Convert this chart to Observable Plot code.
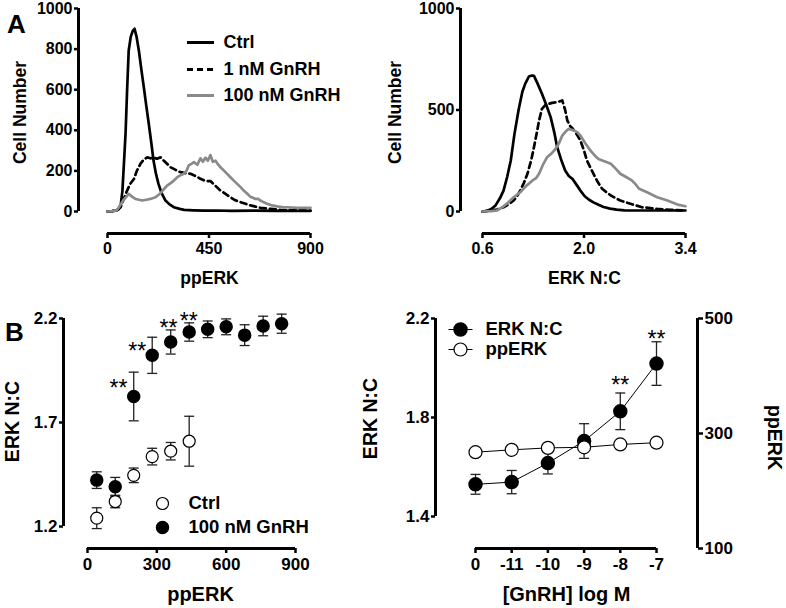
<!DOCTYPE html>
<html><head><meta charset="utf-8">
<script src="https://cdn.jsdelivr.net/npm/d3@7"></script>
<script src="https://cdn.jsdelivr.net/npm/@observablehq/plot@0.6"></script>
<style>
html,body{margin:0;padding:0;background:#fff;}
#wrap{position:relative;width:786px;height:608px;overflow:hidden;background:#fff;}
#wrap svg{position:absolute;left:0;top:0;}
</style></head><body><div id="wrap"></div>
<script>
// ---------- DATA ----------
// Panel A left: ppERK histograms (x = ppERK, y = cell number)
const ctrlPP_x = [0,20,40,50,58,66,73,80,87,94,103,112,120,129,139,150,161,172,183,194,204,215,226,240,257,275,294,320,340,380,430,480,550,650,750,850,900];
const ctrlPP_y = [0,2,5,12,25,100,240,383,600,793,860,890,900,860,793,700,612,520,432,340,251,185,136,90,54,35,21,13,8,6,4,5,3,4,3,3,3];
const nM1PP_x = [0,20,40,50,58,70,87,100,117,130,146,160,176,190,205,220,235,250,264,279,294,310,323,340,368,390,412,435,456,480,501,523,545,567,590,612,634,656,678,723,767,820,900];
const nM1PP_y = [0,2,5,13,21,55,103,135,160,200,235,255,267,262,265,260,267,250,235,218,210,200,194,190,186,175,161,150,150,125,103,87,70,55,46,38,30,24,18,13,8,6,5];
const nM100PP_x = [0,20,40,50,70,94,110,124,139,154,172,190,213,235,250,264,280,294,309,323,338,350,360,372,383,398,412,423,434,445,456,467,479,490,501,523,545,560,575,590,604,620,634,645,656,668,678,693,708,730,752,775,797,841,900];
const nM100PP_y = [0,2,5,20,55,87,72,62,58,54,58,62,70,90,110,128,140,152,169,178,186,200,227,235,243,230,262,245,265,250,278,245,250,232,218,194,169,152,136,120,103,87,72,68,62,62,54,45,38,30,25,22,21,18,18];

// Panel A right: ERK N:C histograms
const ctrlNC_x = [0.6,0.66,0.72,0.78,0.84,0.89,0.94,0.99,1.04,1.10,1.15,1.19,1.24,1.28,1.31,1.36,1.42,1.48,1.54,1.59,1.63,1.68,1.74,1.79,1.84,1.90,1.95,2.01,2.07,2.13,2.2,2.27,2.36,2.45,2.56,2.68,2.85,3.05,3.2,3.4];
const ctrlNC_y = [0,3,12,30,65,103,170,251,380,505,590,630,665,670,668,630,580,525,465,390,317,260,202,175,161,130,103,75,58,45,33,22,14,9,6,5,5,5,5,5];
const nM1NC_x = [0.6,0.71,0.8,0.89,0.96,1.03,1.08,1.12,1.17,1.22,1.27,1.31,1.35,1.38,1.42,1.46,1.51,1.56,1.61,1.66,1.70,1.74,1.77,1.81,1.84,1.90,1.95,2.0,2.04,2.09,2.13,2.19,2.25,2.31,2.37,2.44,2.50,2.64,2.80,3.01,3.19,3.4];
const nM1NC_y = [0,5,10,21,35,54,78,103,140,186,250,317,390,448,506,522,530,535,538,542,547,500,448,420,410,380,350,300,251,215,186,145,112,95,79,65,54,38,21,13,8,5];
const nM100NC_x = [0.6,0.72,0.80,0.87,0.94,1.03,1.12,1.20,1.29,1.34,1.38,1.44,1.49,1.55,1.61,1.66,1.70,1.75,1.79,1.85,1.91,1.95,2.02,2.09,2.15,2.20,2.28,2.37,2.44,2.50,2.58,2.66,2.71,2.76,2.87,3.01,3.15,3.29,3.4];
const nM100NC_y = [0,2,5,20,40,70,95,125,153,165,186,235,267,285,309,340,374,395,407,400,391,374,335,300,275,259,248,235,210,186,170,153,135,112,95,70,54,34,26];

// Panel B left: ERK N:C vs ppERK (mean ± error)
const ctrlB_x = [40,120,200,280,360,440];
const ctrlB_y = [1.24,1.32,1.446,1.536,1.562,1.61];
const ctrlB_e = [0.05,0.03,0.035,0.04,0.042,0.12];
const gnrhB_x = [40,120,200,280,360,440,520,600,680,760,840];
const gnrhB_y = [1.423,1.391,1.825,2.023,2.087,2.135,2.148,2.16,2.12,2.164,2.175];
const gnrhB_e = [0.04,0.045,0.117,0.087,0.058,0.044,0.04,0.038,0.05,0.047,0.046];
const starsB_x = [134,215,350,438];
const starsB_y = [1.892,2.07,2.179,2.214];

// Panel B right: dose response
const doses = ["0","-11","-10","-9","-8","-7"];
const erkNC = [1.530,1.539,1.616,1.705,1.825,2.018];
const erkNC_e = [0.04,0.047,0.044,0.07,0.074,0.088];
const ppERK = [267.5,271.6,275,276,281,284];
const starsDose = ["-8","-7"];
const starsDose_y = [1.954,2.138];

// ---------- helpers ----------
const W = 786, H = 608;
const FONT = "'Liberation Sans', Arial, Helvetica, sans-serif";
const lin = (d, r) => d3.scaleLinear(d, r);
const pts = (xs, ys, extra) => xs.map((x, i) => ({x, y: ys[i], ...(extra ? extra(i) : {})}));
const f0 = d => String(d);
const f1 = d3.format(".1f");
const hline = {draw(ctx, size) { const r = Math.sqrt(size / Math.PI); ctx.moveTo(-r, 0); ctx.lineTo(r, 0); }};

function chart(xs, ys, left, bottom, right, marks) {
  return Plot.plot({
    width: W, height: H,
    marginLeft: left, marginRight: W - right, marginTop: 5, marginBottom: H - bottom,
    x: {domain: xs.domain(), range: xs.range()},
    y: {domain: ys.domain(), range: ys.range()},
    style: {background: "transparent", fontFamily: FONT, fontWeight: "bold", fontSize: "15px", color: "#000", overflow: "visible"},
    marks
  });
}
function label(xs, ys, str, px, py, size, rotate = 0, opts = {}) {
  return Plot.text([str], {x: xs.invert(px), y: ys.invert(py), text: d => d, rotate, fontSize: size, fontWeight: "bold", fill: "#000", ...opts});
}
function axes(xs, ys, yAxisPx, xAxisPx, xTicks, yTicks, xFmt, yFmt, fs) {
  return [
    Plot.ruleX([xs.invert(yAxisPx)], {y1: ys.domain()[0], y2: ys.domain()[1], stroke: "#000", strokeWidth: 3}),
    Plot.ruleY([ys.invert(xAxisPx)], {x1: xs.domain()[0], x2: xs.domain()[1], stroke: "#000", strokeWidth: 3}),
    Plot.axisY({ticks: yTicks, anchor: "left", tickSize: 4, tickPadding: 2, strokeWidth: 2.5, tickFormat: yFmt, fontSize: fs, fontWeight: "bold", label: null}),
    Plot.axisX({ticks: xTicks, anchor: "bottom", tickSize: 5, tickPadding: 4, strokeWidth: 2.5, tickFormat: xFmt, fontSize: fs, fontWeight: "bold", label: null})
  ];
}
function errMarks(data, color = "#222") {
  const o = {x: "x", stroke: color, strokeWidth: 1.3};
  return [
    Plot.ruleX(data, {...o, y1: d => d.y - d.e, y2: d => d.y + d.e}),
    Plot.dot(data, {...o, y: d => d.y + d.e, symbol: hline, r: 5, fill: "none"}),
    Plot.dot(data, {...o, y: d => d.y - d.e, symbol: hline, r: 5, fill: "none"})
  ];
}
const hist = (data, style) => Plot.line(data, {x: "x", y: "y", strokeWidth: 2.7, strokeLinejoin: "round", ...style});
const SOLID = {stroke: "#000"}, DASH = {stroke: "#000", strokeDasharray: "6,4"}, GRAY = {stroke: "#8a8a8a"};
const STAR = {fontSize: 23, fontWeight: "normal", dy: 6};

const wrap = document.getElementById("wrap");

// ---------- A left ----------
{
  const xs = lin([0, 900], [107, 310]), ys = lin([0, 1000], [211, 8]);
  const leg = [["Ctrl", SOLID, 42], ["1 nM GnRH", DASH, 69], ["100 nM GnRH", GRAY, 95]];
  wrap.appendChild(chart(xs, ys, 78, 233, 330, [
    ...axes(xs, ys, 78, 233, [0, 450, 900], [0, 200, 400, 600, 800, 1000], f0, f0, 16),
    hist(pts(ctrlPP_x, ctrlPP_y), SOLID),
    hist(pts(nM1PP_x, nM1PP_y), DASH),
    hist(pts(nM100PP_x, nM100PP_y), GRAY),
    ...leg.map(([t, s, py]) => Plot.ruleY([ys.invert(py)], {x1: xs.invert(187), x2: xs.invert(214), strokeWidth: 3, ...s})),
    ...leg.map(([t, s, py]) => label(xs, ys, t, 223, py, 18, 0, {textAnchor: "start"})),
    label(xs, ys, "ppERK", 209, 278, 17.5),
    label(xs, ys, "Cell Number", 20, 112, 17.5, -90),
    label(xs, ys, "A", 16, 24, 26)
  ]));
}
// ---------- A right ----------
{
  const xs = lin([0.6, 3.4], [482, 685]), ys = lin([0, 1000], [211, 8]);
  wrap.appendChild(chart(xs, ys, 460, 233, 700, [
    ...axes(xs, ys, 460, 233, [0.6, 2.0, 3.4], [0, 500, 1000], f1, f0, 16),
    hist(pts(ctrlNC_x, ctrlNC_y), SOLID),
    hist(pts(nM1NC_x, nM1NC_y), DASH),
    hist(pts(nM100NC_x, nM100NC_y), GRAY),
    label(xs, ys, "ERK N:C", 584, 278, 17.5),
    label(xs, ys, "Cell Number", 395, 112, 17.5, -90)
  ]));
}
// ---------- B left ----------
{
  const xs = lin([0, 900], [87, 295]), ys = lin([1.2, 2.2], [526, 318]);
  const ctrl = pts(ctrlB_x, ctrlB_y, i => ({e: ctrlB_e[i]}));
  const gnrh = pts(gnrhB_x, gnrhB_y, i => ({e: gnrhB_e[i]}));
  wrap.appendChild(chart(xs, ys, 63, 548, 310, [
    ...axes(xs, ys, 63, 548, [0, 300, 600, 900], [1.2, 1.7, 2.2], f0, f1, 17),
    ...errMarks(gnrh),
    ...errMarks(ctrl),
    Plot.dot(gnrh, {x: "x", y: "y", r: 6, fill: "#000", stroke: "#000"}),
    Plot.dot(ctrl, {x: "x", y: "y", r: 6, fill: "#fff", stroke: "#000", strokeWidth: 1.2}),
    Plot.text(pts(starsB_x, starsB_y), {x: "x", y: "y", text: () => "**", ...STAR}),
    Plot.dot([0], {x: xs.invert(162), y: ys.invert(503), r: 6, fill: "#fff", stroke: "#000", strokeWidth: 1.2}),
    Plot.dot([0], {x: xs.invert(162), y: ys.invert(527), r: 6, fill: "#000", stroke: "#000"}),
    label(xs, ys, "Ctrl", 188, 503, 18.5, 0, {textAnchor: "start"}),
    label(xs, ys, "100 nM GnRH", 188, 527, 18.5, 0, {textAnchor: "start"}),
    label(xs, ys, "ppERK", 200, 594, 20),
    label(xs, ys, "ERK N:C", 12, 421, 19.5, -90),
    label(xs, ys, "B", 14, 332, 26)
  ]));
}
// ---------- B right ----------
{
  const xs = lin([0, 5], [475, 656]), ys = lin([1.4, 2.2], [516, 318]);
  const yPP = lin([100, 500], [548, 318]);
  const ppToErk = p => ys.invert(yPP(p));
  const erkToPP = e => yPP.invert(ys(e));
  const erk = doses.map((d, i) => ({x: i, y: erkNC[i], e: erkNC_e[i]}));
  const pp = doses.map((d, i) => ({x: i, y: ppToErk(ppERK[i])}));
  const stars = starsDose.map((d, i) => ({x: doses.indexOf(d), y: starsDose_y[i]}));
  wrap.appendChild(chart(xs, ys, 435, 548, 697, [
    Plot.ruleX([xs.invert(435)], {y1: 1.4, y2: 2.2, stroke: "#000", strokeWidth: 3}),
    Plot.ruleX([xs.invert(697)], {y1: ppToErk(100), y2: ppToErk(500), stroke: "#000", strokeWidth: 3}),
    Plot.ruleY([ys.invert(548)], {x1: 0, x2: 5, stroke: "#000", strokeWidth: 3}),
    Plot.axisY({ticks: [1.4, 1.8, 2.2], anchor: "left", tickSize: 4, tickPadding: 2, strokeWidth: 2.5, tickFormat: f1, fontSize: 17, fontWeight: "bold", label: null}),
    Plot.axisY({ticks: [100, 300, 500].map(ppToErk), anchor: "right", tickSize: 5, tickPadding: 2, strokeWidth: 2.5, tickFormat: d => d3.format(".0f")(erkToPP(d)), fontSize: 17, fontWeight: "bold", label: null}),
    Plot.axisX({ticks: d3.range(doses.length), anchor: "bottom", tickSize: 5, tickPadding: 4, strokeWidth: 2.5, tickFormat: i => doses[i], fontSize: 17, fontWeight: "bold", label: null}),
    Plot.line(erk, {x: "x", y: "y", stroke: "#000", strokeWidth: 1}),
    Plot.line(pp, {x: "x", y: "y", stroke: "#000", strokeWidth: 1}),
    ...errMarks(erk),
    Plot.dot(erk, {x: "x", y: "y", r: 6.5, fill: "#000", stroke: "#000"}),
    Plot.dot(pp, {x: "x", y: "y", r: 6.5, fill: "#fff", stroke: "#000", strokeWidth: 1.2}),
    Plot.text(stars, {x: "x", y: "y", text: () => "**", ...STAR}),
    Plot.link([0], {x1: xs.invert(448), x2: xs.invert(472), y1: ys.invert(329), y2: ys.invert(329), stroke: "#000", strokeWidth: 1}),
    Plot.link([0], {x1: xs.invert(448), x2: xs.invert(472), y1: ys.invert(349), y2: ys.invert(349), stroke: "#000", strokeWidth: 1}),
    Plot.dot([0], {x: xs.invert(460), y: ys.invert(329), r: 6.5, fill: "#000", stroke: "#000"}),
    Plot.dot([0], {x: xs.invert(460), y: ys.invert(349), r: 6.5, fill: "#fff", stroke: "#000", strokeWidth: 1.2}),
    label(xs, ys, "ERK N:C", 485, 329, 18.5, 0, {textAnchor: "start"}),
    label(xs, ys, "ppERK", 485, 349, 18.5, 0, {textAnchor: "start"}),
    label(xs, ys, "[GnRH] log M", 566, 594, 20),
    label(xs, ys, "ERK N:C", 370, 418, 19.5, -90),
    label(xs, ys, "ppERK", 774, 437, 19.5, 90)
  ]));
}
</script></body></html>
